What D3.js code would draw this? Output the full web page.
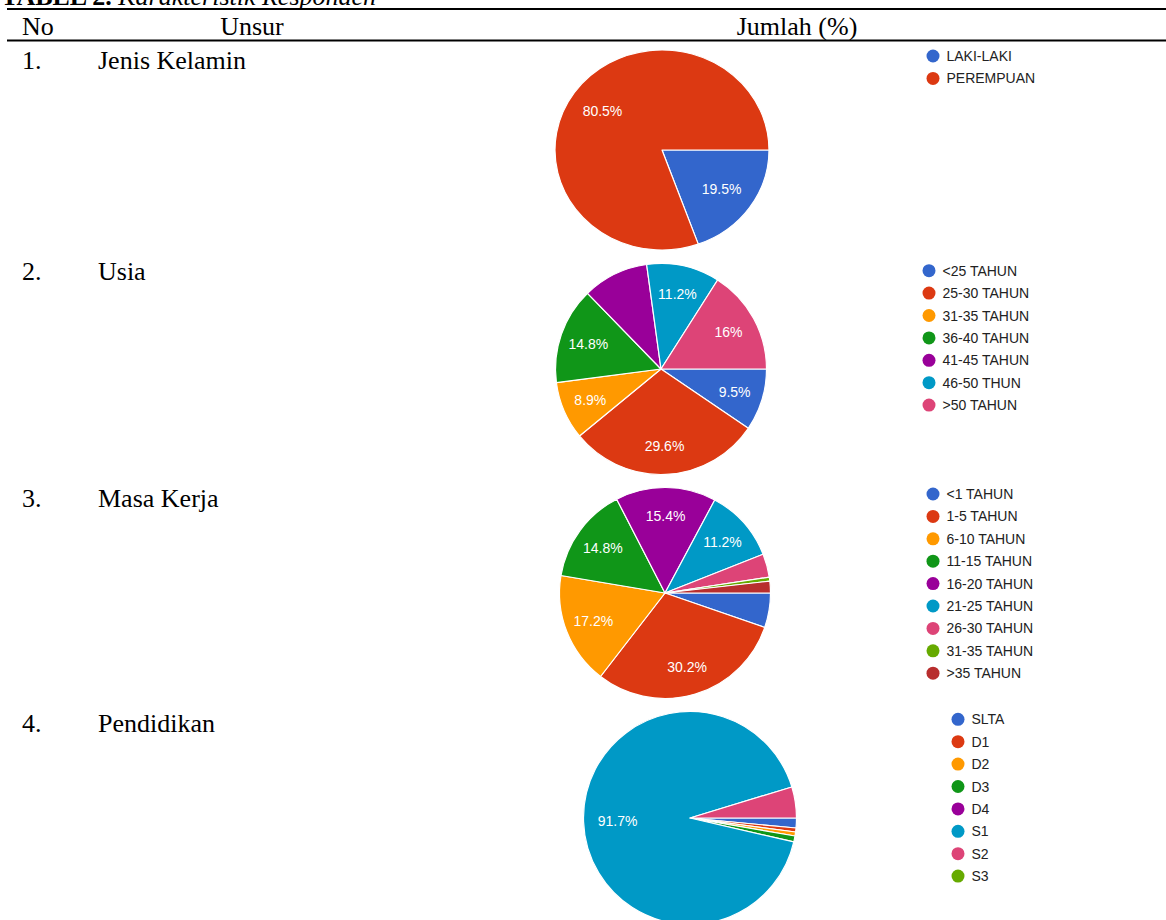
<!DOCTYPE html>
<html><head><meta charset="utf-8">
<script src="https://cdn.jsdelivr.net/npm/d3@7"></script>
<style>body{margin:0;background:#fff}svg{display:block}</style>
</head><body>
<svg id="c" width="1166" height="920"></svg>
<script>
// ---- data ----
const titleBold = "TABEL 2.";
const titleItalic = "Karakteristik Responden";
const headers = ["No", "Unsur", "Jumlah (%)"];
const rowNumbers = ["1.", "2.", "3.", "4."];
const rowNames = ["Jenis Kelamin", "Usia", "Masa Kerja", "Pendidikan"];

const genderCats = ["LAKI-LAKI", "PEREMPUAN"];
const genderVals = [19.5, 80.5];
const genderLabels = ["19.5%", "80.5%"];

const ageCats = ["<25 TAHUN", "25-30 TAHUN", "31-35 TAHUN", "36-40 TAHUN", "41-45 TAHUN", "46-50 THUN", ">50 TAHUN"];
const ageVals = [9.5, 29.6, 8.9, 14.8, 10.1, 11.2, 16];
const ageLabels = ["9.5%", "29.6%", "8.9%", "14.8%", "", "11.2%", "16%"];

const tenureCats = ["<1 TAHUN", "1-5 TAHUN", "6-10 TAHUN", "11-15 TAHUN", "16-20 TAHUN", "21-25 TAHUN", "26-30 TAHUN", "31-35 TAHUN", ">35 TAHUN"];
const tenureVals = [5.3, 30.2, 17.2, 14.8, 15.4, 11.2, 3.6, 0.6, 1.8];
const tenureLabels = ["", "30.2%", "17.2%", "14.8%", "15.4%", "11.2%", "", "", ""];

const eduCats = ["SLTA", "D1", "D2", "D3", "D4", "S1", "S2", "S3"];
const eduVals = [1.5, 0.6, 0.6, 0.9, 0, 91.7, 4.7, 0];
const eduLabels = ["", "", "", "", "", "91.7%", "", ""];

const palette = ["#3366CC", "#DC3912", "#FF9900", "#109618", "#990099", "#0099C6", "#DD4477", "#66AA00", "#B82E2E"];

// ---- layout ----
const svg = d3.select("#c");
const serif = "'Liberation Serif','Times New Roman',serif";
const sans = "'Liberation Sans',Arial,sans-serif";

// title (partly cut off at top, as in the source)
const t = svg.append("text").attr("x", 1).attr("y", 5).attr("font-family", serif).attr("font-size", 26).attr("fill", "#000");
t.append("tspan").attr("font-weight", "bold").text(titleBold + " ");
t.append("tspan").attr("font-style", "italic").text(titleItalic);

// rules
svg.append("line").attr("x1", 7).attr("x2", 1166).attr("y1", 9).attr("y2", 9).attr("stroke", "#000").attr("stroke-width", 2.2);
svg.append("line").attr("x1", 7).attr("x2", 1166).attr("y1", 40.5).attr("y2", 40.5).attr("stroke", "#000").attr("stroke-width", 2);

// headers
const headerX = [22, 252, 797];
const headerAnchor = ["start", "middle", "middle"];
svg.selectAll("text.hdr").data(headers).join("text").attr("class", "hdr")
  .attr("x", (d, i) => headerX[i]).attr("y", 35).attr("text-anchor", (d, i) => headerAnchor[i])
  .attr("font-family", serif).attr("font-size", 26).attr("fill", "#000").text(d => d);

// row labels
const rowY = [69, 280, 507, 732];
svg.selectAll("text.num").data(rowNumbers).join("text").attr("class", "num")
  .attr("x", 22).attr("y", (d, i) => rowY[i]).attr("font-family", serif).attr("font-size", 26).text(d => d);
svg.selectAll("text.name").data(rowNames).join("text").attr("class", "name")
  .attr("x", 98).attr("y", (d, i) => rowY[i]).attr("font-family", serif).attr("font-size", 26).text(d => d);

// pies
const charts = [
  {cats: genderCats, vals: genderVals, labels: genderLabels, cx: 662, cy: 150, r: 107, sy: 0.935, lx: 933, ly: 56, lk: 0.68},
  {cats: ageCats, vals: ageVals, labels: ageLabels, cx: 661, cy: 369, r: 105.5, sy: 1, lx: 929, ly: 270.7, lk: 0.73},
  {cats: tenureCats, vals: tenureVals, labels: tenureLabels, cx: 665, cy: 593, r: 105.5, sy: 1, lx: 933, ly: 494, lk: 0.73},
  {cats: eduCats, vals: eduVals, labels: eduLabels, cx: 690, cy: 818, r: 106.5, sy: 1, lx: 958, ly: 719.3, lk: 0.68}
];

const pie = d3.pie().sort(null).value(d => d.v).startAngle(Math.PI / 2).endAngle(Math.PI / 2 + 2 * Math.PI);

charts.forEach(c => {
  const color = d3.scaleOrdinal(c.cats, palette);
  const data = c.cats.map((k, i) => ({k, v: c.vals[i], label: c.labels[i]}));
  const arcs = pie(data);
  const arc = d3.arc().innerRadius(0).outerRadius(c.r);
  const labelArc = d3.arc().innerRadius(c.r * c.lk).outerRadius(c.r * c.lk);

  const g = svg.append("g").attr("transform", `translate(${c.cx},${c.cy}) scale(1,${c.sy})`);
  g.selectAll("path").data(arcs.filter(a => a.data.v > 0)).join("path")
    .attr("d", arc).attr("fill", a => color(a.data.k))
    .attr("stroke", "#fff").attr("stroke-width", 1.2).attr("stroke-linejoin", "round");

  const lg = svg.append("g").attr("transform", `translate(${c.cx},${c.cy})`);
  lg.selectAll("text").data(arcs.filter(a => a.data.label)).join("text")
    .attr("x", a => labelArc.centroid(a)[0])
    .attr("y", a => labelArc.centroid(a)[1] * c.sy)
    .attr("dy", "0.36em").attr("text-anchor", "middle")
    .attr("font-family", sans).attr("font-size", 14).attr("fill", "#fff")
    .text(a => a.data.label);

  // legend
  const step = 22.4;
  const leg = svg.append("g").attr("transform", `translate(${c.lx},${c.ly})`);
  const items = leg.selectAll("g").data(c.cats).join("g").attr("transform", (d, i) => `translate(0,${i * step})`);
  items.append("circle").attr("r", 6.5).attr("fill", d => color(d));
  items.append("text").attr("x", 13.5).attr("dy", "0.36em")
    .attr("font-family", sans).attr("font-size", 14).attr("fill", "#222").text(d => d);
});
</script>
</body></html>
